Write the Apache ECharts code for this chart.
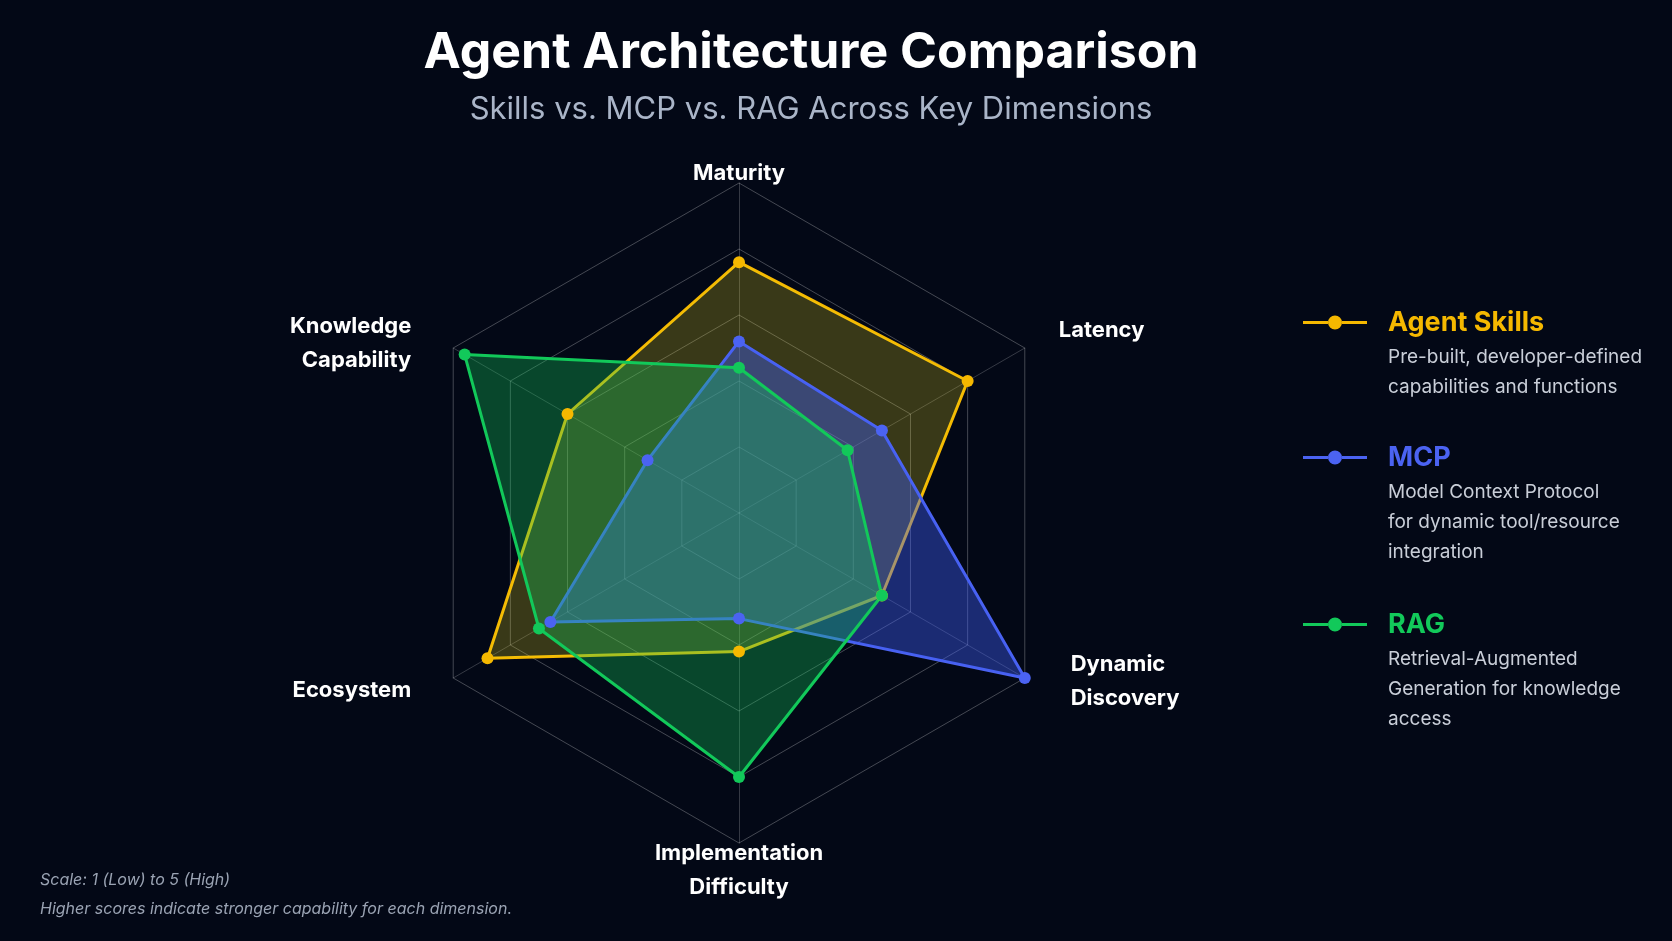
<!DOCTYPE html>
<html>
<head>
<meta charset="utf-8">
<script src="https://cdn.jsdelivr.net/npm/echarts@6/dist/echarts.min.js"></script>
<style>
  html, body { margin: 0; padding: 0; background: #030816; }
  #main { width: 1672px; height: 941px; }
</style>
</head>
<body>
<div id="main"></div>
<script>
    // dimensions, counterclockwise from the top
    var dimensions = ['Maturity', 'Knowledge\nCapability', 'Ecosystem', 'Implementation\nDifficulty', 'Dynamic\nDiscovery', 'Latency'];
    var nameStyles = ['T', 'L', 'L2', 'B', 'R2', 'R'];
    var seriesNames = ['Agent Skills', 'MCP', 'RAG'];
    var colors = ['#f5b800', '#4b63f2', '#12c95a'];
    var fills = ['rgba(236,222,34,0.23)', 'rgba(61,92,245,0.42)', 'rgba(18,201,90,0.33)'];
    var descriptions = [
        'Pre-built, developer-defined\ncapabilities and functions',
        'Model Context Protocol\nfor dynamic tool/resource\nintegration',
        'Retrieval-Augmented\nGeneration for knowledge\naccess'
    ];
    var skillsValues = [3.8, 3.0, 4.4, 2.1, 2.5, 4.0];
    var mcpValues = [2.6, 1.6, 3.3, 1.6, 5.0, 2.5];
    var ragValues = [2.2, 4.8, 3.5, 4.0, 2.5, 1.9];
    var allValues = [skillsValues, mcpValues, ragValues];
    var legendTops = [309, 444, 611];
    var descTops = [342, 477, 644];

    var font = 'Inter, "Noto Sans", sans-serif';
    var linePath = 'path://M0 5.5 H25 V8.5 H0 Z M25 7 A7 7 0 1 0 39 7 A7 7 0 1 0 25 7 Z M39 5.5 H64 V8.5 H39 Z';

    var myChart = echarts.init(document.getElementById('main'));

    var legends = [], graphics = [], series = [];
    seriesNames.forEach(function (name, i) {
        legends.push({
            data: [name],
            left: 1303,
            top: legendTops[i],
            padding: 0,
            icon: linePath,
            itemWidth: 64,
            itemHeight: 14,
            selectedMode: false,
            textStyle: { color: colors[i], fontSize: 27, fontWeight: 'bold', fontFamily: font, padding: [0, 0, 0, 16] }
        });
        graphics.push({
            type: 'text',
            left: 1388,
            top: descTops[i],
            style: { text: descriptions[i], fill: '#c9ced8', font: '19px ' + font, lineHeight: 30 }
        });
        series.push({
            name: name,
            type: 'radar',
            symbol: 'circle',
            symbolSize: 12,
            lineStyle: { color: colors[i], width: 3 },
            itemStyle: { color: colors[i] },
            areaStyle: { color: fills[i], opacity: 1 },
            data: [{ name: name, value: allValues[i] }]
        });
    });

    graphics.push({
        type: 'text',
        left: 40,
        top: 866,
        style: {
            text: 'Scale: 1 (Low) to 5 (High)\nHigher scores indicate stronger capability for each dimension.',
            fill: '#9aa3b3',
            font: 'italic 16px ' + font,
            lineHeight: 29
        }
    });

    // nudges for the axis names
    var nameRich = {
        T: { padding: [0, 0, 0, 0] },
        B: { padding: [0, 0, 0, 0] },
        L: { padding: [0, 48, 17, 0] },
        L2: { padding: [32, 48, 0, 0] },
        R: { padding: [0, 0, 42, 40] },
        R2: { padding: [13, 0, 0, 52] }
    };

    option = {
        backgroundColor: '#030816',
        color: colors,
        title: {
            text: 'Agent Architecture Comparison',
            subtext: 'Skills vs. MCP vs. RAG Across Key Dimensions',
            left: 806,
            textAlign: 'center',
            top: 23,
            itemGap: 16,
            textStyle: { color: '#ffffff', fontSize: 50, fontWeight: 'bold', fontFamily: font },
            subtextStyle: { color: '#aab5c8', fontSize: 31, fontFamily: font }
        },
        legend: legends,
        radar: {
            center: [739, 513],
            radius: 330,
            shape: 'polygon',
            splitNumber: 5,
            nameGap: -7,
            indicator: dimensions.map(function (d) { return { name: d, min: 0, max: 5 }; }),
            axisName: {
                color: '#ffffff',
                fontSize: 22,
                fontWeight: 'bold',
                fontFamily: font,
                lineHeight: 34,
                rich: nameRich,
                formatter: function (name) {
                    var k = nameStyles[dimensions.indexOf(name)];
                    return name.split('\n').map(function (s) {
                        return '{' + k + '|' + s + '}';
                    }).join('\n');
                }
            },
            axisLine: { lineStyle: { color: 'rgba(255,255,255,0.2)' } },
            splitLine: { lineStyle: { color: 'rgba(255,255,255,0.26)', width: 1 } },
            splitArea: { show: false }
        },
        graphic: graphics,
        series: series
    };
    myChart.setOption(option);
</script>
</body>
</html>
